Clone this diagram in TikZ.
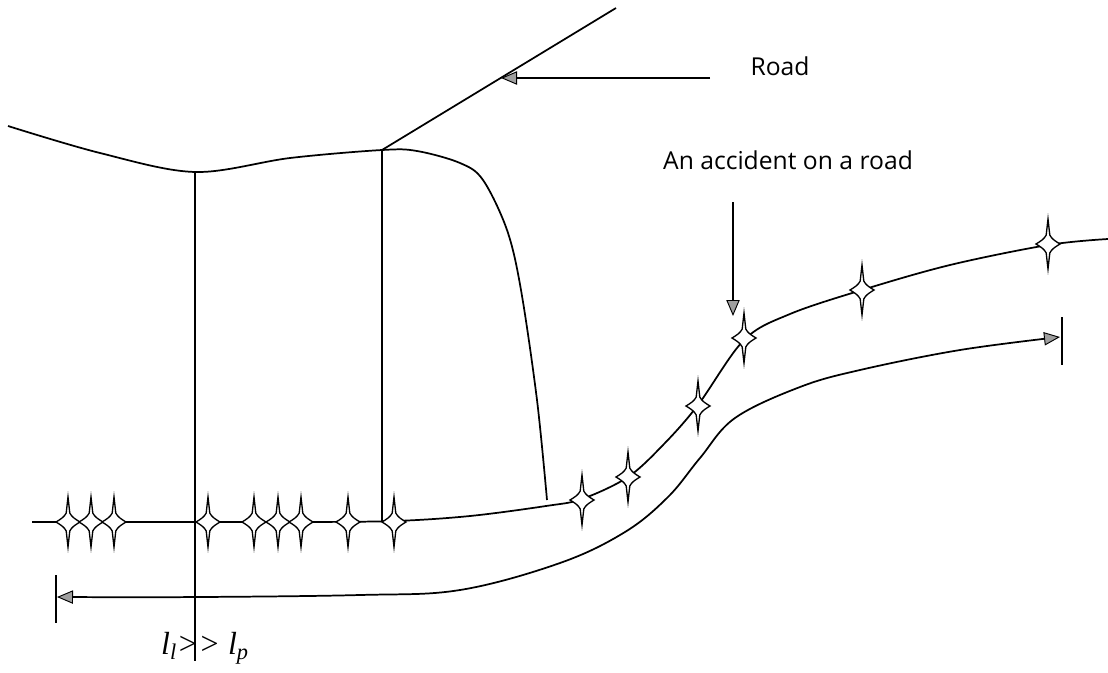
\documentclass[tikz,border=0pt]{standalone}
\usepackage{fontspec}
\setmainfont{Open Sans}
\newfontfamily\ratiofont{Liberation Serif}
\usetikzlibrary{arrows.meta}
\tikzset{
 roadline/.style={line width=1.3pt},
 headtip/.tip={Triangle[length=12pt,width=10pt,fill=gray!75,line width=0.7pt]},
 sparkle/.pic={\draw[line width=1pt,fill=white]
  (0,-25) -- (1.8,-9) .. controls (3.5,-5) and (8,-2.5) .. (12,0)
  .. controls (8,2.5) and (3.5,5) .. (1.8,9) -- (0,25) -- (-1.8,9)
  .. controls (-3.5,5) and (-8,2.5) .. (-12,0)
  .. controls (-8,-2.5) and (-3.5,-5) .. (-1.8,-9) -- cycle;}
}
\begin{document}
\begin{tikzpicture}[x=0.75pt,y=-0.75pt,font=\fontsize{18.5}{22}\selectfont]
\useasboundingbox (0,0) rectangle (1108,672);
% points
\coordinate (junc) at (382,150);
\coordinate (roadend) at (616,8);
\coordinate (roadtail) at (710,78);
\coordinate (roadtip) at (501,78);
\coordinate (acctail) at (733,202);
\coordinate (acctip) at (733,316);
\coordinate (lbar) at (56,599);
\coordinate (rbar) at (1062,341);
% labels
\node (roadlbl) at (780,66) {Road};
\node (acclbl) at (788,160) {An accident on a road};
\node[font=\ratiofont\itshape\fontsize{24}{28}\selectfont] (ratio) at (205,648)
 {l\textsubscript{l}>> l\textsubscript{p}};
% top boundary and road
\draw[roadline] plot[smooth,tension=0.55] coordinates {(8,126) (100,153) (195,172) (290,158) (382,150)
 (417,151) (460,163) (483,180) (507,230) (521,290) (537,400) (547,500)};
\draw[roadline] (junc) -- (roadend);
\draw[roadline,-headtip] (roadtail) -- (roadtip);
\draw[roadline] (195,171) -- (195,661);
\draw[roadline] (junc) -- (382,522);
% road with accidents
\draw[roadline] plot[smooth,tension=0.55] coordinates {(32,522) (200,522) (300,522) (395,521) (470,516)
 (546,506) (582,499) (628,477) (664,444) (698,405) (744,340) (790,314) (862,290) (950,265)
 (1048,245) (1108,239)};
\foreach \x in {68,91,114,208,254,278,301,348,394}
 \path (\x,522) pic {sparkle};
\foreach \p in {(582,500),(628,477),(698,406),(744,338),(862,290),(1048,244)}
 \path \p pic {sparkle};
\draw[roadline,-headtip] (acctail) -- (acctip);
% length
\draw[roadline,headtip-headtip] plot[smooth,tension=0.6] coordinates {(57,597) (200,597) (360,595)
 (460,590) (560,563) (625,532) (668,497) (700,458) (735,418) (800,387) (860,370) (960,350) (1060,337)};
\draw[roadline] (lbar) ++(0,-24) -- ++(0,48);
\draw[roadline] (rbar) ++(0,-24) -- ++(0,48);
\end{tikzpicture}
\end{document}
